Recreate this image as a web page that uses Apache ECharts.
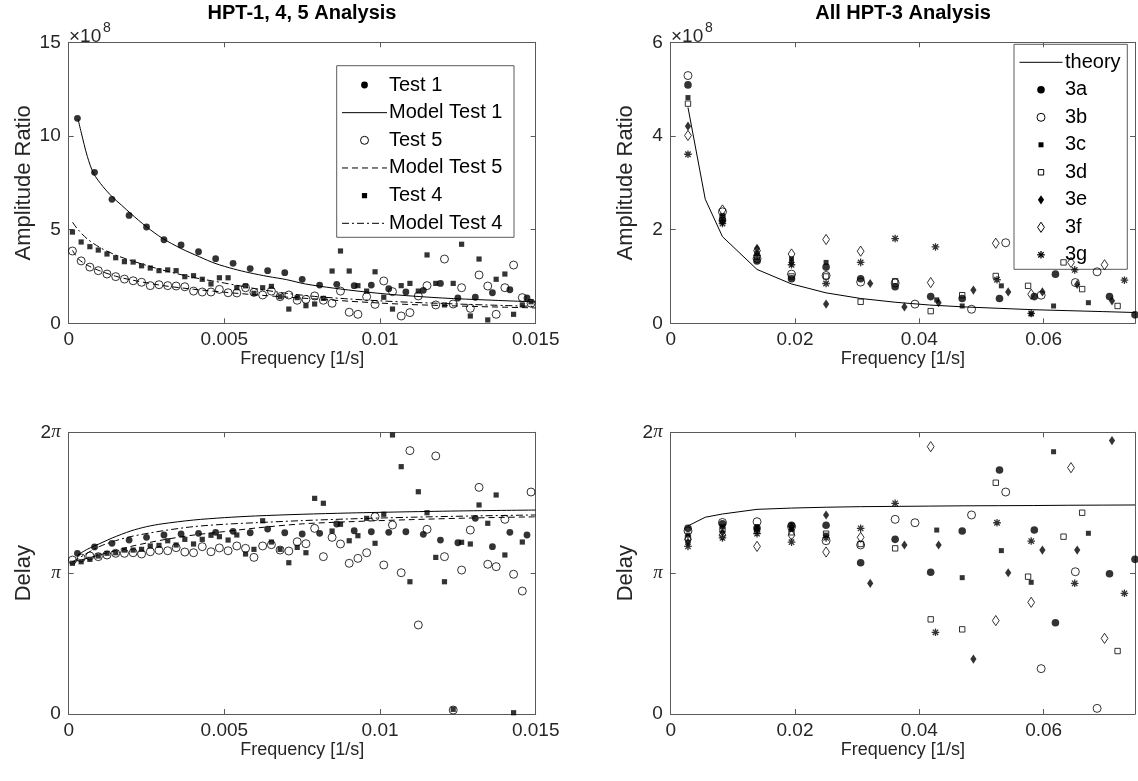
<!DOCTYPE html>
<html><head><meta charset="utf-8">
<script src="https://cdn.jsdelivr.net/npm/echarts@6/dist/echarts.min.js"></script>
<style>html,body{margin:0;padding:0;background:#fff}#c{width:1138px;height:781px}</style>
</head><body><div id="c"></div>
<script>
// ---------------- DATA ----------------
// Left panels (HPT-1, 4, 5)
const freqT1 = [0.00028,0.00083,0.00139,0.00194,0.0025,0.00306,0.00361,0.00417,0.00472,0.00528,0.00583,0.00639,0.00694,0.0075,0.00806,0.00861,0.00917,0.00972,0.01028,0.01083,0.01139,0.01194,0.0125,0.01306,0.01361,0.01417,0.01472];
const ampT1 = [10.94,8.06,6.62,5.76,5.14,4.46,4.18,3.82,3.45,3.20,2.92,2.81,2.70,2.35,2.04,2.08,2.01,2.04,1.85,1.67,1.76,2.13,1.35,1.39,1.63,1.79,1.35];
const delayT1 = [1.141,1.186,1.212,1.235,1.254,1.271,1.278,1.283,1.29,1.297,1.287,1.313,1.287,1.278,1.283,1.349,1.301,1.294,1.290,1.294,1.276,1.235,1.216,1.389,1.188,1.290,1.271]; // in units of pi

const freqT45 = [0.00012,0.0004,0.00068,0.00095,0.00123,0.00151,0.00179,0.00207,0.00234,0.00262,0.0029,0.00318,0.00345,0.00373,0.00401,0.00429,0.00457,0.00484,0.00512,0.0054,0.00568,0.00595,0.00623,0.00651,0.00679,0.00707,0.00734,0.00762,0.0079,0.00818,0.00846,0.00873,0.00901,0.00929,0.00957,0.00984,0.01012,0.0104,0.01068,0.01096,0.01123,0.01151,0.01179,0.01207,0.01235,0.01262,0.0129,0.01318,0.01346,0.01373,0.01401,0.01429,0.01457,0.01485];
const ampT5 = [3.86,3.33,3.0,2.81,2.63,2.49,2.36,2.27,2.19,2.01,2.06,2.01,1.99,1.95,1.72,1.67,1.67,1.81,1.63,1.62,1.90,1.65,1.51,1.72,1.42,1.51,1.23,1.28,1.46,1.23,1.07,1.72,0.59,0.48,1.42,1.01,2.26,1.69,0.39,0.57,1.46,2.01,0.98,3.43,1.03,1.90,0.80,2.58,1.99,0.48,1.90,3.11,1.37,1.07];
const delayT5 = [1.093,1.108,1.122,1.117,1.129,1.141,1.141,1.145,1.136,1.152,1.162,1.159,1.181,1.150,1.145,1.188,1.152,1.179,1.159,1.193,1.176,1.112,1.193,1.202,1.164,1.157,1.223,1.209,1.318,1.117,1.254,1.207,1.070,1.105,1.145,1.401,1.058,1.342,1.003,1.870,0.632,1.311,1.832,1.117,0.028,1.022,1.306,1.609,1.063,1.046,1.382,0.992,0.873,1.576];
const ampT4 = [4.87,4.34,4.09,3.91,3.70,3.50,3.29,3.27,3.07,2.95,2.81,2.85,2.81,2.49,2.54,2.35,2.10,2.43,2.43,1.90,2.00,1.60,1.90,1.97,1.42,0.76,1.37,0.94,1.03,1.33,2.79,3.86,2.79,2.01,1.72,2.75,1.39,0.76,2.01,2.13,1.72,3.65,2.13,0.98,2.13,4.22,0.39,3.43,0.18,2.35,2.63,0.48,0.98,1.15];
const delayT4 = [1.070,1.081,1.098,1.122,1.141,1.145,1.164,1.164,1.169,1.193,1.197,1.230,1.200,1.240,1.207,1.240,1.269,1.259,1.235,1.271,1.136,1.169,1.372,1.221,1.169,1.074,1.183,1.145,1.531,1.496,1.299,1.347,1.230,1.266,1.389,1.212,1.418,1.981,1.756,0.939,1.578,1.429,1.112,0.939,0.033,1.219,1.207,1.484,1.354,1.555,1.129,0.009,1.221,null];

const modelAF1 = [0.0003,0.0004,0.0006,0.0008,0.0011,0.0014,0.0017,0.002,0.0025,0.003,0.0036,0.0042,0.0047,0.0053,0.0058,0.0064,0.007,0.0076,0.0085,0.0095,0.0105,0.012,0.0135,0.015];
const modelA1 = [10.9,10.2,8.9,8.0,7.3,6.75,6.3,5.85,5.15,4.55,4.0,3.55,3.2,2.9,2.7,2.5,2.33,2.1,1.88,1.68,1.52,1.35,1.24,1.14];
const modelAF45 = [0.00012,0.0003,0.0006,0.001,0.0015,0.002,0.003,0.004,0.005,0.006,0.007,0.008,0.009,0.01,0.011,0.012,0.013,0.014,0.015];
const modelA5 = [3.9,3.45,3.1,2.8,2.52,2.32,2.02,1.82,1.66,1.52,1.4,1.29,1.18,1.08,1.0,0.95,0.9,0.86,0.82];
const modelA4 = [5.4,5.0,4.5,4.05,3.65,3.35,2.85,2.45,2.15,1.85,1.6,1.42,1.3,1.2,1.12,1.06,1.0,0.95,0.9];

const modelDF1 = [0.0003,0.0006,0.001,0.0014,0.002,0.0025,0.003,0.004,0.005,0.006,0.0075,0.009,0.011,0.013,0.015];
const modelD1 = [1.13,1.17,1.21,1.25,1.3,1.33,1.35,1.377,1.394,1.406,1.418,1.427,1.436,1.443,1.448];
const modelDF45 = [0.00012,0.0005,0.001,0.0015,0.002,0.003,0.004,0.005,0.006,0.0075,0.009,0.011,0.013,0.015];
const modelD5 = [1.08,1.1,1.13,1.16,1.19,1.235,1.27,1.295,1.32,1.35,1.365,1.38,1.392,1.4];
const modelD4 = [1.08,1.13,1.19,1.23,1.26,1.3,1.33,1.347,1.358,1.373,1.385,1.397,1.406,1.413];

// Right panels (All HPT-3)
const theoryF = [0.00278,0.00556,0.00833,0.01389,0.01944,0.025,0.03056,0.03611,0.04167,0.04722,0.05278,0.05833,0.06389,0.06944,0.0747];
const theoryA = [4.61,2.65,1.85,1.15,0.84,0.65,0.53,0.45,0.39,0.35,0.32,0.29,0.27,0.25,0.23];
const theoryD = [1.335,1.397,1.42,1.453,1.462,1.468,1.472,1.474,1.476,1.478,1.479,1.48,1.482,1.483,1.484];

const f3a = [0.00278,0.00833,0.01389,0.01944,0.025,0.03056,0.03611,0.04183,0.0469,0.0529,0.0585,0.0619,0.0706,0.0747];
const a3a = [5.09,2.2,1.33,0.95,1.2,0.95,0.78,0.57,0.53,0.53,0.57,1.05,0.57,0.18];
const d3a = [1.318,1.35,1.32,1.34,1.34,1.074,1.24,1.006,1.299,1.732,1.306,0.648,0.996,1.098];
const f3b = [0.00278,0.00833,0.01389,0.01944,0.025,0.03056,0.03611,0.0393,0.0484,0.0539,0.0596,0.0651,0.0686];
const a3b = [5.29,2.38,1.38,1.05,1.02,0.88,0.86,0.41,0.30,1.72,0.60,0.87,1.10];
const d3b = [1.30,1.36,1.365,1.33,1.23,1.20,1.382,1.358,1.413,1.576,0.322,1.01,0.04];
const f3c = [0.00278,0.00833,0.01389,0.01944,0.025,0.0428,0.0469,0.0532,0.058,0.0616,0.0672];
const a3c = [4.82,2.3,1.5,1.38,1.3,0.5,0.37,0.80,0.20,0.37,0.44];
const d3c = [1.27,1.33,1.33,1.31,1.27,1.306,0.968,1.16,0.935,1.862,1.283];
const f3d = [0.00278,0.00833,0.01389,0.01944,0.025,0.03056,0.03611,0.04183,0.0469,0.0523,0.0575,0.0632,0.0662,0.0719];
const a3d = [4.69,2.25,1.42,1.0,1.0,0.46,0.9,0.26,0.60,1.01,0.80,1.3,0.73,0.37];
const d3d = [1.25,1.31,1.3,1.29,1.28,1.207,1.176,0.672,0.601,1.642,0.975,1.259,1.429,0.447];
const f3e = [0.00278,0.00833,0.01389,0.01944,0.025,0.0321,0.0376,0.0431,0.0487,0.0543,0.0598,0.0654,0.071];
const a3e = [4.21,2.17,1.6,1.3,0.41,0.85,0.35,0.44,0.71,0.67,0.67,0.83,0.48];
const d3e = [1.22,1.29,1.31,1.33,1.413,0.928,1.2,1.2,0.39,1.003,1.164,1.164,1.941];
const f3f = [0.00278,0.00833,0.01389,0.01944,0.025,0.03056,0.04183,0.0523,0.058,0.0644,0.0698];
const a3f = [4.01,2.42,1.55,1.48,1.79,1.54,0.87,1.71,0.62,1.3,1.25];
const d3f = [1.24,1.27,1.19,1.27,1.15,1.254,1.898,0.663,0.793,1.749,0.537];
const f3g = [0.00278,0.00833,0.01389,0.01944,0.025,0.03056,0.03611,0.0426,0.0525,0.058,0.065,0.073];
const a3g = [3.61,2.13,1.45,1.25,0.85,1.30,1.81,1.63,0.93,0.21,1.14,0.92];
const d3g = [1.19,1.25,1.28,1.22,1.25,1.318,1.496,0.58,1.358,1.228,0.928,0.857];

const legendLeft = ['Test 1','Model Test 1','Test 5','Model Test 5','Test 4','Model Test 4'];
const legendRight = ['theory','3a','3b','3c','3d','3e','3f','3g'];

// ---------------- STYLE ----------------
const FF = '"Liberation Sans", Arial, Helvetica, sans-serif';
const TXT = '#262626', AXC = '#5a5a5a';
const TICK = 19, XLAB = 18, YLAB = 22, LEG = 20, TITLE = 20;

function pairs(xs, ys){ const o=[]; for(let i=0;i<xs.length;i++){ if(ys[i]!=null) o.push([xs[i],ys[i]]); } return o; }
function frame(body){ return 'path://M-10,-10L-10,-10M10,10L10,10' + body; }
function circ(r){ return `M${-r},0A${r},${r},0,1,0,${r},0A${r},${r},0,1,0,${-r},0Z`; }
function sq(h){ return `M${-h},${-h}L${h},${-h}L${h},${h}L${-h},${h}Z`; }
function dia(w,h){ return `M0,${-h}L${w},0L0,${h}L${-w},0Z`; }
const starBody = 'M0,-3.8L0,3.8M-3.8,0L3.8,0M-2.7,-2.7L2.7,2.7M-2.7,2.7L2.7,-2.7';

const FILLED = {color:'#000', borderWidth:0};
const OPEN = {color:'rgba(0,0,0,0)', borderColor:'#000', borderWidth:1};
const STAR = {color:'#000', borderColor:'#000', borderWidth:1.3};

const DASH = [6,4], DASHDOT = [7,3,2,3];

// marker shapes (style only): kind, size params
const MK = {
  t1:{k:'c', r:3.4, fill:true}, t5:{k:'c', r:4, fill:false}, t4:{k:'s', h:2.6, fill:true},
  a:{k:'c', r:3.8, fill:true}, b:{k:'c', r:4, fill:false}, c:{k:'s', h:2.5, fill:true}, d:{k:'s', h:2.7, fill:false},
  e:{k:'d', w:3.1, h:4.6, fill:true}, f:{k:'d', w:3.4, h:5.1, fill:false}, g:{k:'*'}
};
function symOf(m){
  if (m.k==='c') return frame(circ(m.r));
  if (m.k==='s') return frame(sq(m.h));
  if (m.k==='d') return frame(dia(m.w, m.h));
  return frame(starBody);
}
function styleOf(m){ return m.k==='*' ? STAR : (m.fill ? FILLED : OPEN); }

function sc(name, g, data, m){
  return {type:'scatter', name, xAxisIndex:g, yAxisIndex:g, data, symbol:symOf(m), symbolSize:20,
    itemStyle:styleOf(m), clip:false, silent:true, animation:false};
}
function ln(name, g, data, type, smooth){
  return {type:'line', name, xAxisIndex:g, yAxisIndex:g, data, symbol:'none', showSymbol:false,
    smooth: smooth || false, lineStyle:{color:'#000', width:1, type}, itemStyle:{color:'#000'},
    clip:true, silent:true, animation:false};
}

const grids = [
  {left:68.7, top:42.3, width:467, height:281},
  {left:670.7, top:42.3, width:466, height:281},
  {left:68.7, top:432.3, width:467, height:281.7},
  {left:670.7, top:432.3, width:466, height:281.7}
];

function fmtNum(step){
  return function(v){
    const k = v/step;
    if (Math.abs(k - Math.round(k)) > 1e-6) return '';
    return String(+v.toFixed(4));
  };
}
function xMain(g, max, step){
  return {type:'value', gridIndex:g, min:0, max, interval:step, position:'bottom',
    axisLine:{show:true, onZero:false, lineStyle:{color:AXC, width:1}},
    axisTick:{show:true, inside:true, length:5, lineStyle:{color:AXC}},
    splitLine:{show:false},
    axisLabel:{color:TXT, fontSize:TICK, fontFamily:FF, margin:7, interval:0, formatter:fmtNum(step)},
    name:'Frequency [1/s]', nameLocation:'middle', nameGap:25,
    nameTextStyle:{color:TXT, fontSize:XLAB, fontFamily:FF}};
}
function xTop(g, max, step){
  return {type:'value', gridIndex:g, min:0, max, interval:step, position:'top',
    axisLine:{show:true, onZero:false, lineStyle:{color:AXC, width:1}},
    axisTick:{show:true, inside:true, length:5, lineStyle:{color:AXC}},
    splitLine:{show:false}, axisLabel:{show:false}};
}
const piRich = {p:{fontStyle:'italic', fontFamily:'"Liberation Serif", "DejaVu Serif", serif', fontSize:TICK, color:TXT}};
function piFmt(v){ if (v===0) return '0'; if (v===1) return '{p|π}'; if (v===2) return '2{p|π}'; return ''; }
function yMain(g, max, step, name, delay){
  return {type:'value', gridIndex:g, min:0, max, interval:step, position:'left',
    axisLine:{show:true, onZero:false, lineStyle:{color:AXC, width:1}},
    axisTick:{show:true, inside:true, length:5, lineStyle:{color:AXC}},
    splitLine:{show:false},
    axisLabel:{color:TXT, fontSize:TICK, fontFamily:FF, margin:8,
      formatter: delay ? piFmt : fmtNum(step), rich: delay ? piRich : undefined},
    name, nameLocation:'middle', nameGap:34,
    nameTextStyle:{color:TXT, fontSize:YLAB, fontFamily:FF}};
}
function yRight(g, max, step){
  return {type:'value', gridIndex:g, min:0, max, interval:step, position:'right',
    axisLine:{show:true, onZero:false, lineStyle:{color:AXC, width:1}},
    axisTick:{show:true, inside:true, length:5, lineStyle:{color:AXC}},
    splitLine:{show:false}, axisLabel:{show:false}};
}

const XR = 0.0747;
const xAxes = [xMain(0,0.015,0.005), xMain(1,XR,0.02), xMain(2,0.015,0.005), xMain(3,XR,0.02),
               xTop(0,0.015,0.005), xTop(1,XR,0.02), xTop(2,0.015,0.005), xTop(3,XR,0.02)];
const yAxes = [yMain(0,15,5,'Amplitude Ratio',false), yMain(1,6,2,'Amplitude Ratio',false),
               yMain(2,2,1,'Delay',true), yMain(3,2,1,'Delay',true),
               yRight(0,15,5), yRight(1,6,2), yRight(2,2,1), yRight(3,2,1)];

const series = [
  // top-left
  sc('Test 1', 0, pairs(freqT1, ampT1), MK.t1),
  ln('Model Test 1', 0, pairs(modelAF1, modelA1), 'solid', 0.3),
  sc('Test 5', 0, pairs(freqT45, ampT5), MK.t5),
  ln('Model Test 5', 0, pairs(modelAF45, modelA5), DASH, 0.3),
  sc('Test 4', 0, pairs(freqT45, ampT4), MK.t4),
  ln('Model Test 4', 0, pairs(modelAF45, modelA4), DASHDOT, 0.3),
  // top-right
  ln('theory', 1, pairs(theoryF, theoryA), 'solid', false),
  sc('3a', 1, pairs(f3a, a3a), MK.a),
  sc('3b', 1, pairs(f3b, a3b), MK.b),
  sc('3c', 1, pairs(f3c, a3c), MK.c),
  sc('3d', 1, pairs(f3d, a3d), MK.d),
  sc('3e', 1, pairs(f3e, a3e), MK.e),
  sc('3f', 1, pairs(f3f, a3f), MK.f),
  sc('3g', 1, pairs(f3g, a3g), MK.g),
  // bottom-left
  sc('Test 1', 2, pairs(freqT1, delayT1), MK.t1),
  ln('Model Test 1', 2, pairs(modelDF1, modelD1), 'solid', 0.3),
  sc('Test 5', 2, pairs(freqT45, delayT5), MK.t5),
  ln('Model Test 5', 2, pairs(modelDF45, modelD5), DASH, 0.3),
  sc('Test 4', 2, pairs(freqT45, delayT4), MK.t4),
  ln('Model Test 4', 2, pairs(modelDF45, modelD4), DASHDOT, 0.3),
  // bottom-right
  ln('theory', 3, pairs(theoryF, theoryD), 'solid', false),
  sc('3a', 3, pairs(f3a, d3a), MK.a),
  sc('3b', 3, pairs(f3b, d3b), MK.b),
  sc('3c', 3, pairs(f3c, d3c), MK.c),
  sc('3d', 3, pairs(f3d, d3d), MK.d),
  sc('3e', 3, pairs(f3e, d3e), MK.e),
  sc('3f', 3, pairs(f3f, d3f), MK.f),
  sc('3g', 3, pairs(f3g, d3g), MK.g)
];

// ---------------- LEGENDS (drawn as graphic) ----------------
const legendKeys = {
  'Test 1':{m:MK.t1}, 'Model Test 1':{line:'solid'}, 'Test 5':{m:MK.t5}, 'Model Test 5':{line:DASH},
  'Test 4':{m:MK.t4}, 'Model Test 4':{line:DASHDOT},
  'theory':{line:'solid'}, '3a':{m:MK.a}, '3b':{m:MK.b}, '3c':{m:MK.c}, '3d':{m:MK.d},
  '3e':{m:MK.e}, '3f':{m:MK.f}, '3g':{m:MK.g}
};
function markerGraphic(m, cx, cy){
  const st = m.fill ? {fill:'#000', stroke:null} : {fill:'none', stroke:'#000', lineWidth:1};
  if (m.k==='c') return [{type:'circle', shape:{cx, cy, r:m.r}, style:st}];
  if (m.k==='s') return [{type:'rect', shape:{x:cx-m.h, y:cy-m.h, width:2*m.h, height:2*m.h}, style:st}];
  if (m.k==='d') return [{type:'polygon', shape:{points:[[cx,cy-m.h],[cx+m.w,cy],[cx,cy+m.h],[cx-m.w,cy]]}, style:st}];
  const s = 3.8, t = 2.7, ls = {stroke:'#000', lineWidth:1.3};
  return [
    {type:'line', shape:{x1:cx, y1:cy-s, x2:cx, y2:cy+s}, style:ls},
    {type:'line', shape:{x1:cx-s, y1:cy, x2:cx+s, y2:cy}, style:ls},
    {type:'line', shape:{x1:cx-t, y1:cy-t, x2:cx+t, y2:cy+t}, style:ls},
    {type:'line', shape:{x1:cx-t, y1:cy+t, x2:cx+t, y2:cy-t}, style:ls}
  ];
}
function buildLegend(names, box, firstY, step, x1, x2, textX){
  const els = [{type:'rect', shape:{x:box.x, y:box.y, width:box.w, height:box.h},
    style:{fill:'#fff', stroke:AXC, lineWidth:1}}];
  names.forEach((n, i) => {
    const y = firstY + i*step, k = legendKeys[n];
    if (k.line) {
      els.push({type:'line', shape:{x1, y1:y, x2, y2:y},
        style:{stroke:'#000', lineWidth:1, lineDash: k.line==='solid' ? null : k.line}});
    } else {
      markerGraphic(k.m, (x1+x2)/2, y).forEach(e => els.push(e));
    }
    els.push({type:'text', x:textX, y, style:{text:n, font:LEG+'px '+FF, fill:'#000', align:'left', verticalAlign:'middle'}});
  });
  return {type:'group', z:100, children:els};
}

const option = {
  backgroundColor:'#fff',
  animation:false,
  grid: grids,
  xAxis: xAxes,
  yAxis: yAxes,
  graphic: [
    {type:'text', x:302, y:13, style:{text:'HPT-1, 4, 5 Analysis', align:'center', verticalAlign:'middle', font:'bold '+TITLE+'px '+FF, fill:'#000'}},
    {type:'text', x:903, y:13, style:{text:'All HPT-3 Analysis', align:'center', verticalAlign:'middle', font:'bold '+TITLE+'px '+FF, fill:'#000'}},
    {type:'text', x:69, y:27, style:{text:'×10', font:TICK+'px '+FF, fill:TXT}},
    {type:'text', x:103, y:21, style:{text:'8', font:'14px '+FF, fill:TXT}},
    {type:'text', x:671, y:27, style:{text:'×10', font:TICK+'px '+FF, fill:TXT}},
    {type:'text', x:705, y:21, style:{text:'8', font:'14px '+FF, fill:TXT}},
    buildLegend(legendLeft, {x:336.7, y:65.7, w:177.3, h:171.6}, 85, 27.66, 342, 387, 389),
    buildLegend(legendRight, {x:1014, y:44.3, w:113.3, h:225}, 62.3, 27.5, 1019.5, 1062.5, 1065)
  ],
  series
};

const chart = echarts.init(document.getElementById('c'), null, {renderer:'canvas'});
chart.setOption(option);
</script>
</body></html>
